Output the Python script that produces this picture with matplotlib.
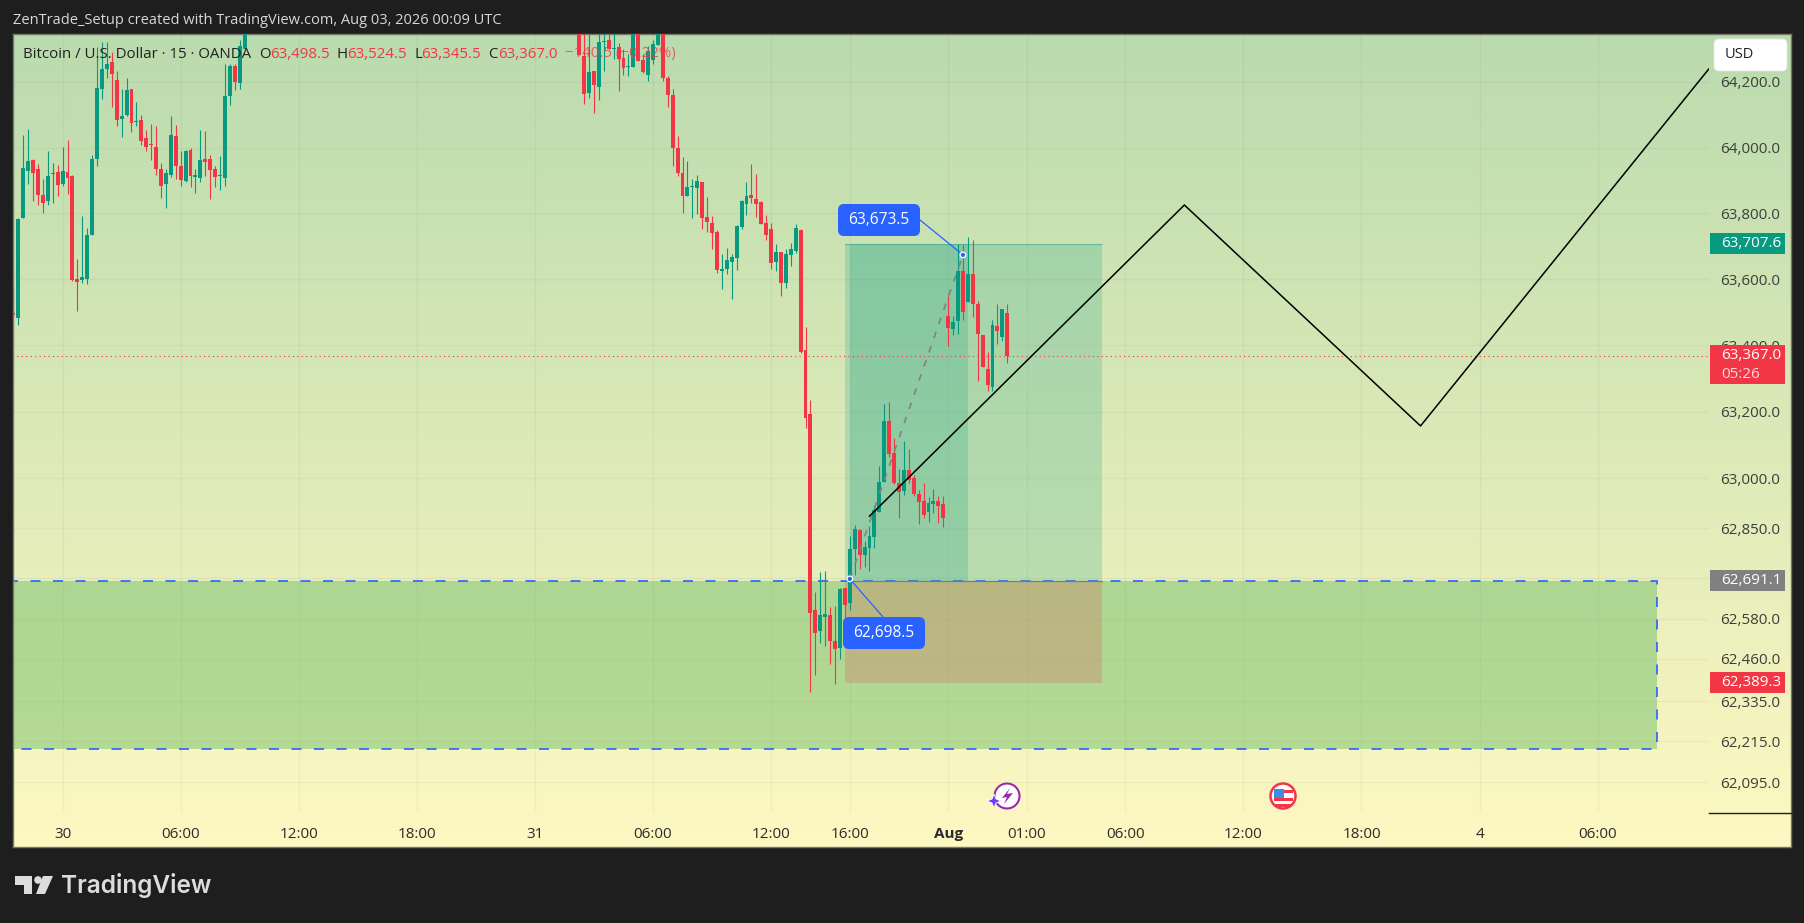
import matplotlib
matplotlib.use('Agg')
import matplotlib.pyplot as plt
import numpy as np
from matplotlib.colors import LinearSegmentedColormap
from matplotlib.patches import Rectangle, FancyBboxPatch, Circle, Polygon
from matplotlib.ticker import NullLocator, FixedLocator, FixedFormatter

plt.rcParams['font.family'] = ['Open Sans', 'DejaVu Sans']

# left cluster of candles, bar 0 onward
left_open = [63499, 63481, 63784, 63927, 63961, 63933, 63854, 63836, 63918, 63924,
             63890, 63924, 63912, 63600, 63598, 63600, 63733, 63966, 64178, 64239,
             64260, 64205, 64087, 64099, 64178, 64078, 64083, 64030, 64011, 64003,
             63933, 63890, 63915, 64036, 63945, 63897, 63991, 63909, 63906, 63966,
             63966, 63936, 63912, 63906, 64157, 64248, 64197, 64302]
left_high = [63579, 63786, 64039, 64056, 63965, 63951, 63905, 63989, 63954, 63946,
             64002, 64024, 63915, 63662, 63792, 63756, 63978, 64307, 64322, 64322,
             64291, 64233, 64178, 64211, 64180, 64139, 64099, 64054, 64071, 64066,
             63953, 63933, 64095, 64068, 63988, 63991, 63997, 63933, 64053, 64051,
             63977, 63945, 63975, 64256, 64256, 64256, 64327, 64400]
left_low = [63489, 63460, 63784, 63890, 63837, 63825, 63800, 63824, 63830, 63852,
            63882, 63857, 63593, 63503, 63587, 63584, 63733, 63945, 64148, 64211,
            64125, 64066, 64033, 64095, 64046, 64066, 64008, 63990, 63963, 63915,
            63845, 63815, 63911, 63903, 63884, 63895, 63880, 63860, 63895, 63913,
            63842, 63880, 63872, 63884, 64130, 64175, 64178, 64302]
left_close = [63491, 63781, 63938, 63959, 63922, 63854, 63830, 63912, 63921, 63887,
              63929, 63906, 63598, 63591, 63606, 63733, 63966, 64181, 64239, 64256,
              64224, 64084, 64096, 64175, 64076, 64081, 64021, 64003, 64009, 63936,
              63882, 63921, 64039, 63943, 63900, 63988, 63912, 63915, 63963, 63957,
              63930, 63909, 63915, 64157, 64248, 64200, 64311, 64360]

# right cluster, bar 115 onward (the bars between are above the visible range)
right_start = 115
right_open = [64400, 64279, 64167, 64233, 64185, 64321, 64327, 64300, 64306, 64273,
              64246, 64246, 64390, 64267, 64221, 64267, 64312, 64390, 64212, 64161,
              64000, 63921, 63852, 63879, 63876, 63894, 63788, 63770, 63743, 63624,
              63630, 63652, 63664, 63758, 63827, 63855, 63843, 63834, 63770, 63752,
              63652, 63682, 63588, 63673, 63685, 63748, 63387, 63194, 62606, 62544,
              62586, 62592, 62514, 62493, 62670, 62627, 62789, 62845, 62771, 62791,
              62824, 62898, 62988, 63172, 63075, 62985, 62961, 63024, 63000, 62952,
              62933, 62900, 62924, 62933, 62924, 63490, 63448, 63472, 63624, 63530,
              63615, 63524, 63430, 63327, 63275, 63457, 63424, 63498.5]
right_high = [64420, 64400, 64380, 64233, 64400, 64380, 64380, 64380, 64318, 64302,
              64287, 64420, 64420, 64287, 64309, 64330, 64400, 64420, 64218, 64179,
              64036, 63970, 63958, 63903, 63915, 63894, 63849, 63791, 63749, 63676,
              63694, 63676, 63764, 63840, 63894, 63949, 63918, 63837, 63794, 63770,
              63706, 63682, 63691, 63709, 63767, 63751, 63454, 63236, 62660, 62720,
              62723, 62615, 62618, 62672, 62670, 62827, 62860, 62848, 62812, 62857,
              62919, 63037, 63224, 63230, 63121, 63027, 63112, 63088, 63009, 62964,
              62985, 62943, 62967, 62946, 62946, 63548, 63490, 63706, 63703, 63727,
              63718, 63533, 63430, 63381, 63475, 63524, 63509, 63524.5]
right_low = [64282, 64133, 64152, 64106, 64146, 64233, 64300, 64270, 64173, 64221,
             64218, 64246, 64264, 64227, 64203, 64255, 64312, 64203, 64124, 63943,
             63912, 63800, 63852, 63785, 63797, 63752, 63743, 63691, 63618, 63570,
             63615, 63540, 63627, 63752, 63794, 63830, 63788, 63767, 63718, 63630,
             63624, 63549, 63573, 63640, 63679, 63378, 63151, 62363, 62413, 62508,
             62499, 62446, 62386, 62461, 62530, 62606, 62711, 62729, 62734, 62723,
             62791, 62898, 62988, 63063, 62982, 62881, 62949, 62985, 62946, 62863,
             62882, 62869, 62897, 62866, 62855, 63397, 63430, 63433, 63475, 63530,
             63484, 63291, 63333, 63263, 63263, 63403, 63412, 63345.5]
right_close = [64282, 64164, 64230, 64191, 64321, 64324, 64300, 64303, 64270, 64243,
               64249, 64390, 64264, 64230, 64294, 64315, 64380, 64212, 64161, 64000,
               63921, 63852, 63879, 63882, 63897, 63785, 63773, 63740, 63627, 63630,
               63658, 63667, 63761, 63837, 63852, 63846, 63827, 63767, 63733, 63649,
               63682, 63588, 63676, 63691, 63755, 63381, 63181, 62596, 62538, 62592,
               62595, 62514, 62490, 62667, 62621, 62789, 62848, 62771, 62794, 62827,
               62904, 62988, 63172, 63072, 62985, 62958, 63024, 62994, 62952, 62930,
               62891, 62927, 62933, 62918, 62882, 63451, 63469, 63624, 63500, 63615,
               63524, 63433, 63333, 63281, 63460, 63442, 63509, 63367]

# axes
y_ticks = [64200, 64000, 63800, 63600, 63400, 63200, 63000, 62850, 62700, 62580, 62460, 62335, 62215, 62095]
y_labels = ['64,200.0', '64,000.0', '63,800.0', '63,600.0', '63,400.0', '63,200.0', '63,000.0',
            '62,850.0', '62,700.0', '62,580.0', '62,460.0', '62,335.0', '62,215.0', '62,095.0']
x_ticks = [10, 34, 58, 82, 106, 130, 154, 170, 190, 206, 226, 250, 274, 298, 322]
x_labels = ['30', '06:00', '12:00', '18:00', '31', '06:00', '12:00', '16:00', 'Aug',
            '01:00', '06:00', '12:00', '18:00', '4', '06:00']

# drawings
last_price = 63367.0
zone_top, zone_bottom, zone_right = 62691.1, 62192, 334
pos_target, pos_entry, pos_stop = 63707.6, 62691.1, 62389.3
pos_left, pos_inner_left, pos_inner_right, pos_right = 169, 170, 194, 221.3
path_x = [174, 238, 286, 344.6]
path_y = [62886, 63825, 63157, 64240]
swing_x = [170, 193]
swing_y = [62698.5, 63673.5]

RED = '#F23645'
GREEN = '#089981'
BLUE = '#2962FF'
W, H = 1804, 923
PANE = (13, 34, 1709, 813)     # left, top, right, bottom of the price pane, px
FRAME = (13, 34, 1791, 847)
FS = 11

fig = plt.figure(figsize=(W / 100, H / 100), dpi=100, facecolor='#1E1E1E')


def rect_axes(box):
    l, t, r, b = box
    return fig.add_axes([l / W, 1 - b / H, (r - l) / W, (b - t) / H])


# gradient behind everything
bg = rect_axes(FRAME)
cmap = LinearSegmentedColormap.from_list('bg', ['#BADBAE', '#FEF8C2'])
bg.imshow(np.linspace(0, 1, 256).reshape(-1, 1), cmap=cmap, aspect='auto', extent=(0, 1, 0, 1))
bg.set_xticks([])
bg.set_yticks([])
for s in bg.spines.values():
    s.set_color('#77776c')
    s.set_linewidth(1)

ax = rect_axes(PANE)
ax.patch.set_alpha(0)
ax.set_yscale('log')
ax.set_xlim(-0.08, 344.63)
ax.set_ylim(62003.4, 64346.9)
for s in ax.spines.values():
    s.set_visible(False)
ax.yaxis.tick_right()
ax.yaxis.set_major_locator(FixedLocator(y_ticks))
ax.yaxis.set_major_formatter(FixedFormatter(y_labels))
ax.yaxis.set_minor_locator(NullLocator())
ax.set_xticks(x_ticks, x_labels)
ax.tick_params(axis='y', length=0, pad=8, labelsize=FS, labelcolor='#3c3f3a')
ax.tick_params(axis='x', length=0, pad=10, labelsize=FS, labelcolor='#2b2b2b')
ax.get_xticklabels()[8].set_fontweight('bold')
ax.grid(True, color='#000000', alpha=0.035, linewidth=1)
ax.set_axisbelow(True)

# zone and long position
ax.add_patch(Rectangle((-20, zone_bottom), zone_right + 20, zone_top - zone_bottom,
                       facecolor='#4CAF50', alpha=0.38, edgecolor='none', zorder=1))
ax.add_patch(Rectangle((-20, zone_bottom), zone_right + 20, zone_top - zone_bottom,
                       facecolor='none', edgecolor=BLUE, linewidth=1.2,
                       linestyle=(0, (6, 7.5)), zorder=1.2))
ax.add_patch(Rectangle((pos_left, pos_entry), pos_right - pos_left, pos_target - pos_entry,
                       facecolor=GREEN, alpha=0.2, edgecolor='none', zorder=1.5))
ax.add_patch(Rectangle((pos_inner_left, pos_entry), pos_inner_right - pos_inner_left, pos_target - pos_entry,
                       facecolor=GREEN, alpha=0.2, edgecolor='none', zorder=1.5))
ax.add_patch(Rectangle((pos_left, pos_stop), pos_right - pos_left, pos_entry - pos_stop,
                       facecolor=RED, alpha=0.2, edgecolor='none', zorder=1.5))
ax.plot([pos_left, pos_right], [pos_target, pos_target], color=GREEN, alpha=0.4, lw=0.8, zorder=1.6)
ax.plot([pos_inner_left, pos_right], [pos_entry, pos_entry], color='#787B86', lw=0.9, zorder=1.6)

# candles
for start, o, h, l, c in [(0, left_open, left_high, left_low, left_close),
                          (right_start, right_open, right_high, right_low, right_close)]:
    o, h, l, c = map(np.array, (o, h, l, c))
    idx = start + np.arange(len(o))
    col = np.where(c >= o, GREEN, RED)
    ax.vlines(idx, l, h, colors=col, linewidth=0.8, zorder=3)
    ax.bar(idx, np.maximum(np.abs(c - o), 3), bottom=np.minimum(o, c), width=0.8, color=col, zorder=3.1)

ax.plot([-1, 345], [last_price, last_price], color=RED, lw=0.8, linestyle=(0, (1, 3)), zorder=3.5)
ax.plot(swing_x, swing_y, color='#7d8480', lw=1.2, linestyle=(0, (4, 5)), zorder=3.4)
ax.plot(path_x, path_y, color='#000000', lw=1.1, zorder=4)


def py(price):
    return H - ax.transData.transform((0, price))[1]


def px(bar):
    return ax.transData.transform((bar, last_price))[0]


# pixel overlay for the tags, callouts and chrome
ui = fig.add_axes([0, 0, 1, 1], zorder=5)
ui.set_xlim(0, W)
ui.set_ylim(H, 0)
ui.axis('off')
ui.patch.set_alpha(0)


def price_tag(price, text, color, tall=False):
    y = py(price)
    h = 39 if tall else 21
    top = y - 11
    ui.add_patch(Rectangle((1710, top), 75, h, facecolor=color, edgecolor='none'))
    ui.text(1721, top + 10.5, text, color='white', fontsize=FS, va='center', fontweight='medium')


price_tag(63707.6, '63,707.6', GREEN)
price_tag(last_price, '63,367.0', RED, tall=True)
ui.text(1721, py(last_price) + 18, '05:26', color='#ffd8dc', fontsize=FS, va='center')
price_tag(62691.1, '62,691.1', '#808080')
price_tag(62389.3, '62,389.3', RED)
ui.plot([1709, 1791], [812.5, 812.5], color='#1E1E1E', lw=1)

# callouts
for (x0, y0, x1, y1), text, (bar, price), line_start in [
        ((838, 204, 920, 236), '63,673.5', (swing_x[1], swing_y[1]), (920, 220)),
        ((843, 617, 925, 649), '62,698.5', (swing_x[0], swing_y[0]), (883, 617))]:
    ui.plot([line_start[0], px(bar)], [line_start[1], py(price)], color=BLUE, lw=0.9, zorder=2)
    ui.add_patch(FancyBboxPatch((x0 + 4, y0 + 4), x1 - x0 - 8, y1 - y0 - 8, boxstyle='round,pad=4,rounding_size=6',
                                facecolor=BLUE, edgecolor='none', zorder=3))
    ui.text((x0 + x1) / 2, (y0 + y1) / 2, text, color='white', fontsize=11.2, ha='center', va='center', zorder=4)
    ui.add_patch(Circle((px(bar), py(price)), 2.8, facecolor=BLUE, edgecolor='white', linewidth=0.9, zorder=4))

# header and legend
ui.text(13, 20, 'ZenTrade_Setup created with TradingView.com, Aug 03, 2026 00:09 UTC',
        color='#d8d8d8', fontsize=10.5, va='center')
ui.text(23, 54, 'Bitcoin / U.S. Dollar · 15 · OANDA', color='#20221f', fontsize=10.8, va='center')
for x, letter, value_x, value in [(259, 'O', 270, '63,498.5'), (337, 'H', 347, '63,524.5'),
                                  (414, 'L', 421, '63,345.5'), (488, 'C', 498, '63,367.0')]:
    ui.text(x, 54, letter, color='#20221f', fontsize=10.8, va='center')
    ui.text(value_x, 54, value, color=RED, fontsize=10.8, va='center')
ui.text(565, 54, '−140.5 (−0.22%)', color=RED, alpha=0.75, fontsize=10.8, va='center')

# USD button
ui.add_patch(FancyBboxPatch((1718, 43), 65, 24, boxstyle='round,pad=4,rounding_size=5',
                            facecolor='white', edgecolor='#e6e6e6', linewidth=0.6))
ui.text(1725, 54.5, 'USD', color='#222222', fontsize=10.5, va='center')

# event icons under the candles
ui.add_patch(Circle((1007, 796), 12.5, facecolor='white', edgecolor='#9C27B0', linewidth=1.5, zorder=2))
ui.add_patch(Polygon([(1010, 788), (1002, 798), (1007, 797), (1004, 804), (1013, 793), (1007, 794)],
                     facecolor='#9C27B0', edgecolor='none', zorder=3))
ui.add_patch(Polygon([(994, 794), (996, 799), (1001, 801), (996, 803), (994, 808), (992, 803), (987, 801), (992, 799)],
                     facecolor='#6A3DFF', edgecolor='white', linewidth=0.6, zorder=3))
ui.add_patch(Circle((1283, 796), 12.5, facecolor='white', edgecolor='#F23645', linewidth=1.8, zorder=2))
ui.add_patch(Rectangle((1274, 798), 19, 3, facecolor='#F23645', edgecolor='none', zorder=3))
ui.add_patch(Rectangle((1275, 804), 16, 3, facecolor='#F23645', edgecolor='none', zorder=3))
ui.add_patch(Rectangle((1283, 790), 10, 3, facecolor='#F23645', edgecolor='none', zorder=3))
ui.add_patch(Rectangle((1274, 789), 10, 9, facecolor='#3F8CE8', edgecolor='none', zorder=3))

# TradingView logo
logo = '#DCDCDC'
ui.add_patch(Polygon([(15, 876), (32, 876), (32, 894), (24, 894), (24, 885), (15, 885)], facecolor=logo, edgecolor='none'))
ui.add_patch(Circle((38, 880), 3.8, facecolor=logo, edgecolor='none'))
ui.add_patch(Polygon([(43, 876), (53, 876), (45, 894), (36, 894)], facecolor=logo, edgecolor='none'))
ui.text(61, 886, 'TradingView', color=logo, fontsize=17.6, fontweight='semibold', family='Inter', va='center')

fig.savefig('out.png', dpi=100, facecolor=fig.get_facecolor())
